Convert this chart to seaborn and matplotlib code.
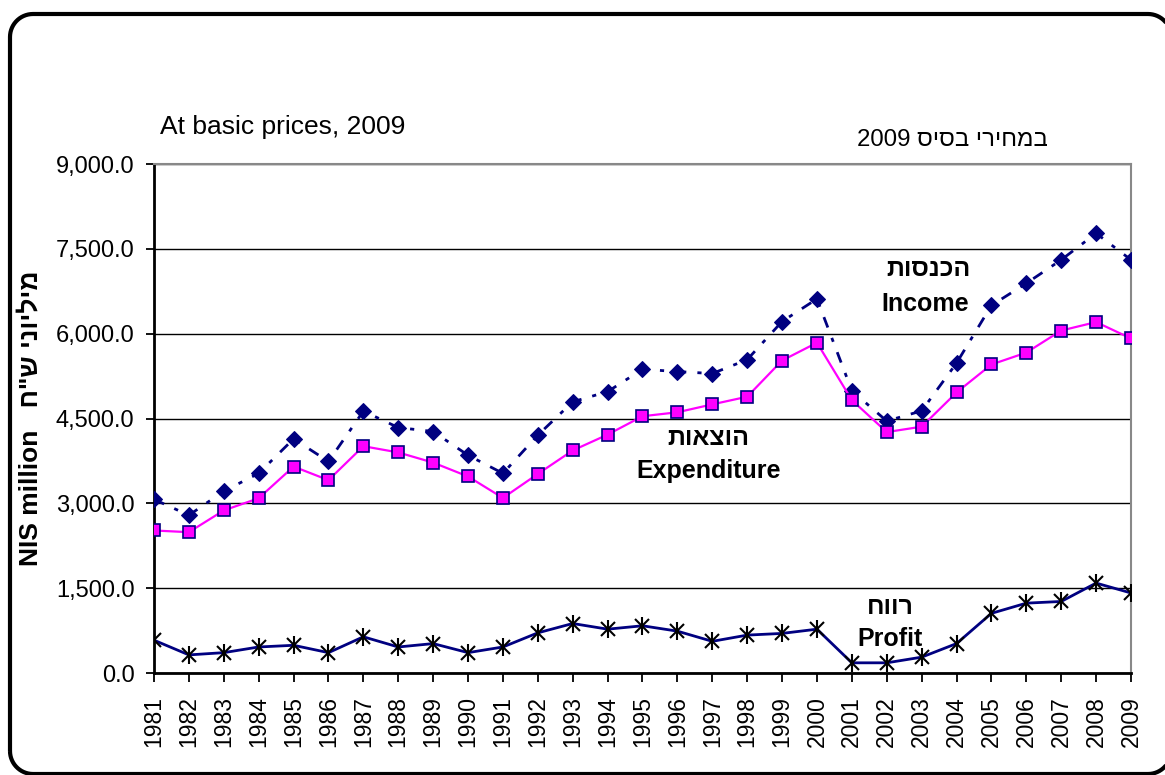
import matplotlib
matplotlib.use('Agg')
import matplotlib.pyplot as plt
import seaborn as sns
import numpy as np
from matplotlib.patches import PathPatch
from matplotlib.path import Path
from matplotlib.transforms import IdentityTransform
from matplotlib.ticker import FuncFormatter

sns.set_style('white')
plt.rcParams['font.family'] = ['Liberation Sans', 'DejaVu Sans']
plt.rcParams['text.color'] = 'black'
plt.rcParams['xtick.color'] = 'black'
plt.rcParams['ytick.color'] = 'black'

# Data (NIS million, at basic prices 2009)
years = list(range(1981, 2010))
income = [3070, 2790, 3215, 3530, 4140, 3740, 4630, 4340, 4270, 3850,
          3530, 4205, 4795, 4975, 5370, 5330, 5295, 5540, 6215, 6615,
          4990, 4455, 4635, 5480, 6500, 6890, 7305, 7775, 7305]
expenditure = [2520, 2490, 2875, 3090, 3650, 3410, 4010, 3900, 3720, 3475,
               3095, 3520, 3935, 4215, 4540, 4610, 4750, 4885, 5525, 5840,
               4825, 4260, 4355, 4960, 5455, 5665, 6055, 6205, 5915]
profit = [580, 320, 360, 460, 490, 360, 640, 460, 520, 360,
          460, 710, 875, 775, 835, 740, 560, 670, 700, 775,
          180, 180, 280, 520, 1055, 1235, 1265, 1590, 1415]
yticks = [0, 1500, 3000, 4500, 6000, 7500, 9000]


def rtl(s):
    # matplotlib has no bidi support: reverse Hebrew words for display
    words = s.split(' ')
    out = []
    for w in reversed(words):
        if any('\u0590' <= c <= '\u05ff' for c in w):
            out.append(w[::-1])
        else:
            out.append(w)
    return ' '.join(out)


def rounded_frame(left, bottom, right, top, r):
    # polyline rounded rectangle in pixels (curves get clipped badly at the canvas edge)
    pts = []
    corners = [((left + r, bottom + r), 180), ((right - r, bottom + r), 270),
               ((right - r, top - r), 0), ((left + r, top - r), 90)]
    for (cx, cy), a0 in corners:
        t = np.radians(np.linspace(a0, a0 + 90, 16))
        pts += list(zip(cx + r * np.cos(t), cy + r * np.sin(t)))
    pts.append(pts[0])
    return Path(pts)


navy = '#000080'
magenta = '#FF00FF'

fig = plt.figure(figsize=(11.65, 7.75), dpi=100)
ax = fig.add_axes([154 / 1165, 1 - 673 / 775, (1131 - 154) / 1165, (673 - 164) / 775])

sns.lineplot(x=years, y=income, ax=ax, color=navy, linewidth=2,
             linestyle=(0, (4, 4, 1.5, 4)), marker='D', markersize=8.5,
             markerfacecolor=navy, markeredgecolor=navy, zorder=4)
sns.lineplot(x=years, y=expenditure, ax=ax, color=magenta, linewidth=1.6,
             marker='s', markersize=8.5, markerfacecolor=magenta,
             markeredgecolor=navy, markeredgewidth=1.2, zorder=5)
sns.lineplot(x=years, y=profit, ax=ax, color=navy, linewidth=2,
             marker='x', markersize=10, markeredgecolor='black',
             markeredgewidth=1.5, zorder=4)
ax.plot(years, profit, linestyle='none', marker='|', markersize=12.5,
        markeredgecolor='black', markeredgewidth=1.5, zorder=4)

ax.set_xlim(1981, 2009)
ax.set_ylim(0, 9000)
ax.set_xticks(years)
ax.set_xticklabels([str(y) for y in years], rotation=90)
ax.set_yticks(yticks)
ax.yaxis.set_major_formatter(FuncFormatter(lambda v, p: f'{v:,.1f}'))
ax.tick_params(axis='y', labelsize=17, length=6, width=1.3, direction='out',
               left=True, pad=8)
ax.tick_params(axis='x', labelsize=16.5, length=6.5, width=1.3, direction='out',
               bottom=True, pad=10)

ax.grid(axis='y', color='black', linewidth=1)
ax.set_axisbelow(True)
for side in ['left', 'bottom']:
    ax.spines[side].set_color('black')
    ax.spines[side].set_linewidth(2)
for side in ['top', 'right']:
    ax.spines[side].set_color('#888888')
    ax.spines[side].set_linewidth(1.5)

fig.text(30 / 1165, 1 - 418 / 775, 'NIS million   ' + rtl('מיליוני ש"ח'),
         fontsize=19, fontweight='bold', rotation=90, ha='center', va='center')

# series labels
lab = dict(fontsize=18, fontweight='bold', ha='center', va='center')
ax.text(2003.2, 7140, rtl('הכנסות'), **lab)
ax.text(2003.1, 6530, 'Income', **lab)
ax.text(1996.9, 4150, rtl('הוצאות'), **lab)
ax.text(1996.9, 3580, 'Expenditure', **lab)
ax.text(2002.1, 1160, rtl('רווח'), **lab)
ax.text(2002.1, 610, 'Profit', **lab)

fig.text(160 / 1165, 1 - 127 / 775, 'At basic prices, 2009', fontsize=19,
         ha='left', va='center')
fig.text(1048 / 1165, 1 - 140 / 775, rtl('במחירי בסיס 2009'), fontsize=17.3,
         ha='right', va='center')

# rounded frame round the whole figure (runs off the right edge)
frame = PathPatch(rounded_frame(10, 1, 1171, 761, 23), transform=IdentityTransform(),
                  facecolor='none', edgecolor='black', linewidth=3)
fig.add_artist(frame)

fig.savefig('out.png', dpi=100)
